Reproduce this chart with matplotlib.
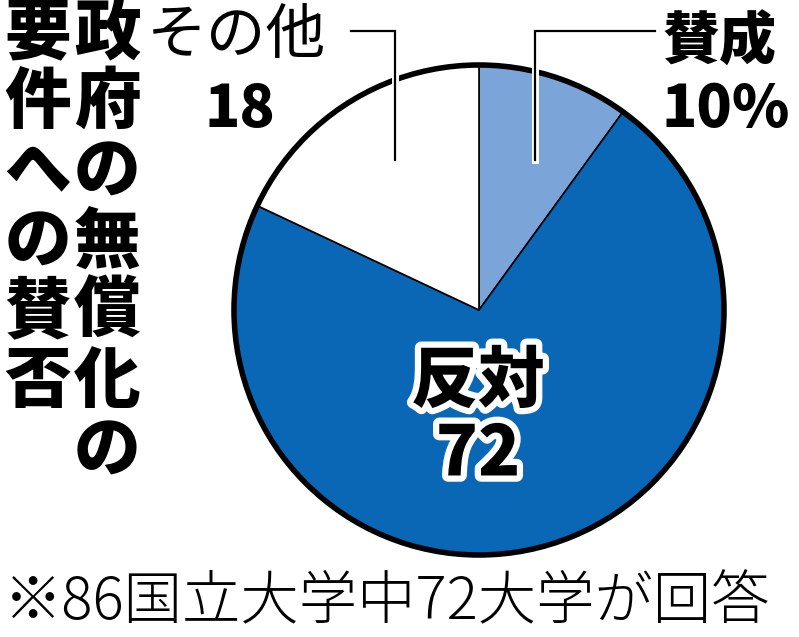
import matplotlib
matplotlib.use("Agg")
import matplotlib.pyplot as plt
import matplotlib.patheffects as pe
from matplotlib.patches import Circle

plt.rcParams['font.family'] = ['Noto Sans CJK JP', 'DejaVu Sans']

# データ
labels = ['賛成', '反対', 'その他']
values = [10, 72, 18]
colors = ['#7ba5d8', '#0a67b6', '#ffffff']
title_cols = ['政府の無償化の', '要件への賛否']
note = '※86国立大学中72大学が回答'

W, H = 799, 637
fig = plt.figure(figsize=(W / 100, H / 100), dpi=100)
ax = fig.add_axes([0, 0, 1, 1])

def py(y):
    # 画像のピクセル座標(上から)を軸座標へ
    return H - y

cx, cy, r = 479, py(310), 245

ax.pie(values, colors=colors, startangle=90, counterclock=False,
       center=(cx, cy), radius=r, frame=True,
       wedgeprops=dict(edgecolor='black', linewidth=1.2))
ax.set_xlim(0, W)
ax.set_ylim(0, H)
ax.set_aspect('equal')
ax.axis('off')
ax.add_patch(Circle((cx, cy), r, fill=False, edgecolor='black', linewidth=4, zorder=5))

# 引き出し線
halo = [pe.Stroke(linewidth=5, foreground='white'), pe.Normal()]
ax.plot([535, 535, 655], [py(160), py(31), py(31)], color='black', lw=1.6,
        zorder=6, path_effects=halo, solid_joinstyle='miter')
ax.plot([395, 395, 351], [py(160), py(31), py(31)], color='black', lw=1.6,
        zorder=6, path_effects=halo, solid_joinstyle='miter')

# ラベル
ax.text(720, py(43), labels[0], fontsize=41, fontweight='heavy', ha='center', va='center', zorder=7)
ax.text(726, py(110), f'{values[0]}%', fontsize=42, fontweight='heavy', ha='center', va='center', zorder=7)
ax.text(237, py(37), labels[2], fontsize=43, fontweight='normal', ha='center', va='center', zorder=7)
ax.text(240, py(110), str(values[2]), fontsize=42, fontweight='heavy', ha='center', va='center', zorder=7)

outline = [pe.withStroke(linewidth=9, foreground='white')]
ax.text(478, py(382), labels[1], fontsize=48, fontweight='heavy', ha='center', va='center',
        zorder=7, path_effects=outline)
ax.text(478, py(455), str(values[1]), fontsize=50, fontweight='heavy', ha='center', va='center',
        zorder=7, path_effects=outline)

# 縦書きタイトル
for x, col in zip([107, 38], title_cols):
    ax.text(x, py(0), '\n'.join(col), fontsize=48, fontweight='heavy', ha='center', va='top',
            linespacing=1.04, zorder=7)

# 注記
ax.text(4, py(603), note, fontsize=42, fontweight='light', ha='left', va='center')

fig.savefig('out.png', dpi=100)
